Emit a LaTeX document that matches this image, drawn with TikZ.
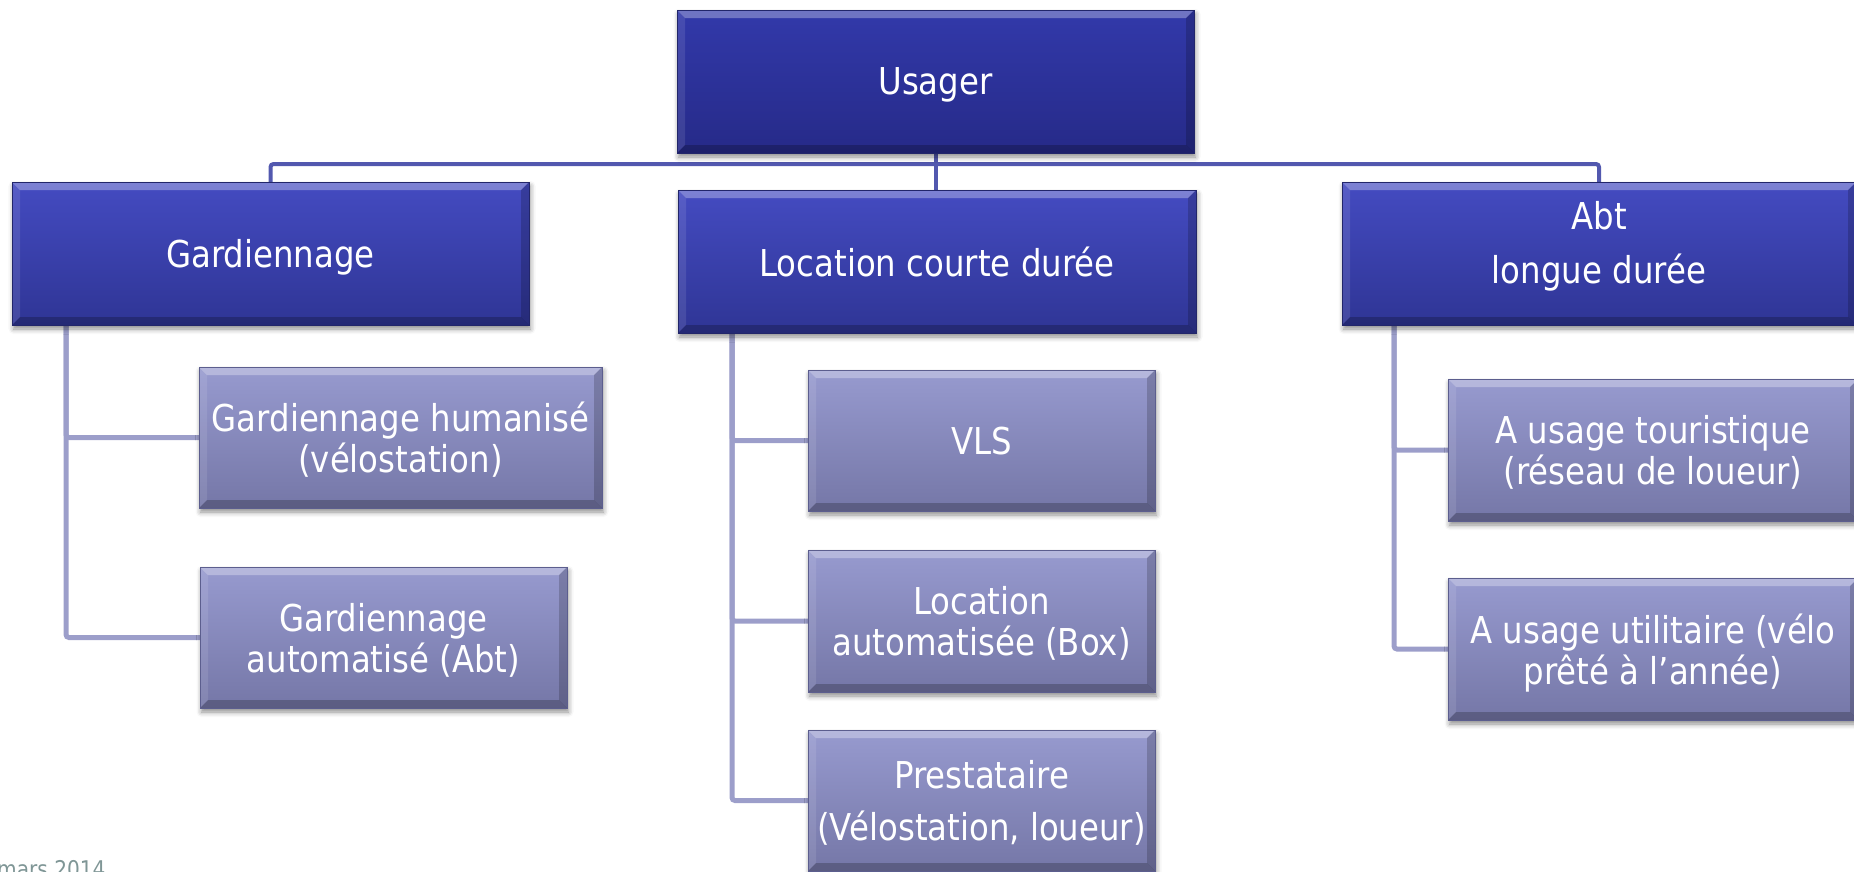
\documentclass[tikz,border=0pt]{standalone}
\usepackage{fontspec}
\setmainfont{DejaVu Sans}[FakeStretch=0.875]
\usetikzlibrary{shadows.blur,calc}
\pgfdeclarelayer{bg}
\pgfsetlayers{bg,main}
\definecolor{usTop}{HTML}{3239AA}
\definecolor{usBot}{HTML}{262A88}
\definecolor{midTop}{HTML}{444BC1}
\definecolor{midBot}{HTML}{2F3595}
\definecolor{chTop}{HTML}{979ACF}
\definecolor{chBot}{HTML}{7577A7}
\definecolor{darkEdge}{HTML}{22266A}
\definecolor{chEdge}{HTML}{5C5E8E}
\definecolor{busCol}{HTML}{5258AF}
\definecolor{childCol}{HTML}{9C9ECA}
\definecolor{footGray}{HTML}{7F9696}
\tikzset{
  bevel/.style={path picture={
    \fill[white,opacity=.30] (path picture bounding box.north west) -- (path picture bounding box.north east)
      -- ([shift={(-8pt,-8pt)}]path picture bounding box.north east) -- ([shift={(8pt,-8pt)}]path picture bounding box.north west) -- cycle;
    \fill[white,opacity=.10] (path picture bounding box.north west) -- ([shift={(8pt,-8pt)}]path picture bounding box.north west)
      -- ([shift={(8pt,8pt)}]path picture bounding box.south west) -- (path picture bounding box.south west) -- cycle;
    \fill[black,opacity=.18] (path picture bounding box.north east) -- ([shift={(-8pt,-8pt)}]path picture bounding box.north east)
      -- ([shift={(-8pt,8pt)}]path picture bounding box.south east) -- (path picture bounding box.south east) -- cycle;
    \fill[black,opacity=.22] (path picture bounding box.south west) -- ([shift={(8pt,8pt)}]path picture bounding box.south west)
      -- ([shift={(-8pt,8pt)}]path picture bounding box.south east) -- (path picture bounding box.south east) -- cycle;
  }},
  box/.style={rectangle, anchor=north west, inner sep=0pt, outer sep=0pt, text=white, align=center,
    font=\fontsize{37}{41}\selectfont, text depth=0pt, line width=0.8pt, bevel,
    blur shadow={shadow xshift=1.5pt, shadow yshift=-4pt, shadow blur radius=5pt, shadow opacity=45}},
  oneline/.style={text depth=-4pt},
  sz/.style 2 args={minimum width=#1pt, minimum height=#2pt},
  usbox/.style={box, top color=usTop, bottom color=usBot, draw=darkEdge},
  midbox/.style={box, top color=midTop, bottom color=midBot, draw=darkEdge},
  childbox/.style={box, top color=chTop, bottom color=chBot, draw=chEdge},
  busline/.style={draw=busCol, line width=4pt, rounded corners=3pt},
  childline/.style={draw=childCol, line width=5pt, rounded corners=3pt},
}
\begin{document}
\begin{tikzpicture}[x=1pt,y=-1pt]
\useasboundingbox (0,0) rectangle (1854,871);
% top level
\node[usbox, oneline, sz={517}{143}] (usager) at (677,10) {Usager};
% second level
\node[midbox, oneline, sz={517}{143}] (gard) at (12,182) {Gardiennage};
\node[midbox, oneline, sz={518}{143}] (loc) at (678,190) {Location courte durée};
\node[midbox, sz={514}{143}, font=\fontsize{37}{54}\selectfont, text depth=22pt] (abt) at (1342,182) {Abt\\longue durée};
% children
\node[childbox, sz={403}{141}] (gh) at (199,367) {Gardiennage humanisé\\(vélostation)};
\node[childbox, sz={367}{141}] (ga) at (200,567) {Gardiennage\\automatisé (Abt)};
\node[childbox, oneline, sz={347}{141}] (vls) at (808,370) {VLS};
\node[childbox, sz={347}{142}] (la) at (808,550) {Location\\automatisée (Box)};
\node[childbox, sz={347}{141}, font=\fontsize{37}{52}\selectfont] (pr) at (808,730) {Prestataire\\(Vélostation, loueur)};
\node[childbox, sz={410}{142}] (tour) at (1448,379) {A usage touristique\\(réseau de loueur)};
\node[childbox, sz={410}{142}] (util) at (1448,578) {A usage utilitaire (vélo\\prêté à l’année)};
% footer
\node[anchor=base west, inner sep=0pt, text=footGray, font=\fontsize{23}{23}\selectfont] (date) at (-3,877) {mars 2014};
% connectors
\begin{pgfonlayer}{bg}
\coordinate (bus) at (0,164);
\draw[busline] (gard.north) -- (gard.north |- bus) -- (abt.north |- bus) -- (abt.north);
\draw[busline] (usager.south) -- (usager.south |- loc.north);
\coordinate (gtrunk) at (66,325);
\coordinate (ltrunk) at (732,333);
\coordinate (atrunk) at (1394,325);
\draw[childline] (gtrunk) |- (gh.west);
\draw[childline] (gtrunk) |- (ga.west);
\draw[childline] (ltrunk) |- (vls.west);
\draw[childline] (ltrunk) |- (la.west);
\draw[childline] (ltrunk) |- (pr.west);
\draw[childline] (atrunk) |- (tour.west);
\draw[childline] (atrunk) |- (util.west);
\end{pgfonlayer}
\end{tikzpicture}
\end{document}
